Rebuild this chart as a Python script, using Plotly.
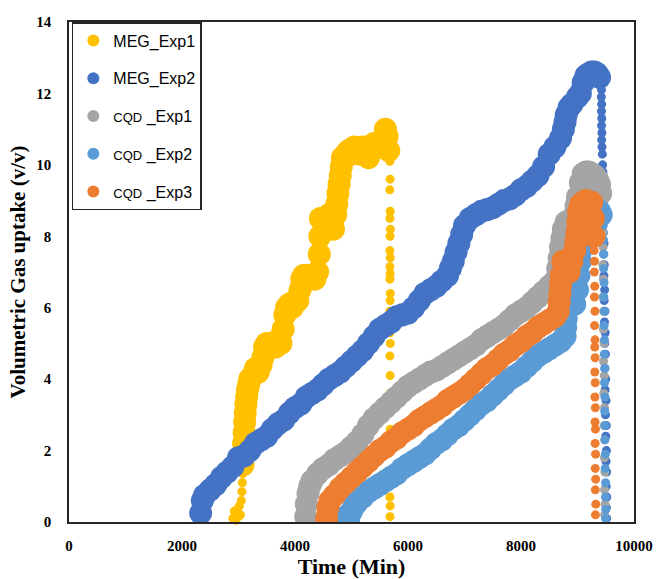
import plotly.graph_objects as go

# ---------------- data ----------------
x_ticks = [0, 2000, 4000, 6000, 8000, 10000]
x_tick_text = ["0", "2000", "4000", "6000", "8000", "10000"]
y_ticks = [0, 2, 4, 6, 8, 10, 12, 14]

series_names = ["MEG_Exp1", "MEG_Exp2",
                '<span style="font-size:13px">CQD</span> _Exp1',
                '<span style="font-size:13px">CQD</span> _Exp2',
                '<span style="font-size:13px">CQD</span> _Exp3']

meg1_band = [(3080, 1.6), (3085, 1.9), (3090, 2.2), (3100, 2.5), (3110, 2.8), (3120, 3.05),
             (3130, 3.3), (3145, 3.5), (3160, 3.7), (3180, 3.85), (3200, 4.0),
             (3250, 4.1), (3300, 4.3), (3350, 4.2), (3400, 4.4), (3430, 4.6), (3460, 4.9),
             (3500, 5.0), (3550, 5.0), (3600, 4.9), (3650, 4.9), (3700, 5.1), (3750, 5.0),
             (3790, 5.4), (3820, 5.8), (3850, 6.0), (3900, 6.1), (3950, 6.0), (4000, 6.2),
             (4050, 6.2), (4090, 6.5), (4120, 6.8), (4150, 6.9), (4200, 6.8), (4250, 6.9),
             (4300, 6.9), (4350, 6.8), (4400, 7.0), (4430, 7.5), (4440, 8.0), (4450, 8.5),
             (4500, 8.5), (4550, 8.4), (4600, 8.6), (4650, 8.4), (4680, 8.2), (4720, 8.6),
             (4740, 8.9), (4760, 9.2), (4780, 9.45), (4800, 9.7), (4820, 9.95), (4840, 10.2),
             (4900, 10.3), (4950, 10.4), (5000, 10.3),
             (5050, 10.5), (5100, 10.4), (5150, 10.3), (5200, 10.5), (5250, 10.4), (5300, 10.2),
             (5350, 10.4), (5400, 10.6), (5450, 10.6), (5500, 10.5), (5550, 10.7), (5600, 11.0),
             (5630, 10.8), (5660, 10.4)]
meg1_dots = [(2900, 0.1), (2925, 0.3), (2950, 0.05), (2975, 0.35), (3000, 0.15), (3015, 0.45),
             (3035, 0.2), (3050, 0.6), (3060, 0.85), (3068, 1.1), (3075, 1.35),
             (5680, 10.1), (5683, 9.6), (5678, 9.3), (5685, 8.7), (5680, 8.5), (5688, 8.2),
             (5682, 8.0), (5679, 7.6), (5686, 7.4), (5681, 7.15), (5684, 6.95), (5680, 6.8),
             (5687, 6.4), (5683, 6.2), (5679, 5.9), (5685, 5.6), (5682, 5.3), (5688, 5.0),
             (5680, 4.65), (5684, 4.1), (5681, 3.6), (5686, 2.6), (5683, 2.2), (5680, 0.7),
             (5685, 0.45), (5682, 0.15)]

meg2_band = [(2330, 0.25), (2360, 0.6), (2400, 0.75), (2500, 0.9), (2600, 1.05), (2700, 1.25),
             (2800, 1.4), (2900, 1.55), (3000, 1.8), (3100, 1.85), (3200, 2.0), (3300, 2.2),
             (3400, 2.3), (3500, 2.4), (3600, 2.6), (3700, 2.75), (3800, 2.85), (3900, 3.05),
             (4000, 3.2), (4100, 3.3), (4200, 3.5), (4300, 3.6), (4400, 3.7), (4500, 3.85),
             (4600, 4.0), (4700, 4.1), (4800, 4.2), (4900, 4.35), (5000, 4.5), (5100, 4.65),
             (5200, 4.8), (5300, 5.0), (5400, 5.2), (5500, 5.4), (5600, 5.5), (5700, 5.6),
             (5800, 5.75), (5900, 5.8), (6000, 5.85), (6100, 6.0), (6200, 6.2), (6300, 6.4),
             (6400, 6.5), (6500, 6.6), (6600, 6.75), (6700, 6.9), (6750, 7.1), (6800, 7.3),
             (6850, 7.55), (6900, 7.8), (6950, 8.05),
             (7000, 8.3), (7100, 8.5), (7200, 8.6), (7300, 8.7), (7400, 8.75), (7500, 8.8),
             (7600, 8.9), (7700, 9.0), (7800, 9.05), (7900, 9.15), (8000, 9.3), (8100, 9.4),
             (8200, 9.55), (8300, 9.7), (8400, 9.95), (8500, 10.3), (8600, 10.5), (8700, 10.75),
             (8750, 11.0), (8780, 11.2), (8800, 11.4), (8850, 11.6), (8900, 11.7), (9000, 11.9),
             (9050, 12.0), (9100, 12.3), (9150, 12.5), (9200, 12.55), (9250, 12.6), (9300, 12.6),
             (9350, 12.55), (9390, 12.45)]
meg2_dots = [(9420, 12.3), (9425, 12.1), (9422, 11.9), (9428, 11.7), (9424, 11.5), (9430, 11.3),
             (9426, 11.1), (9432, 10.9), (9428, 10.7), (9434, 10.5), (9440, 10.3),
             (9445, 10.0), (9450, 9.8), (9455, 9.6), (9448, 9.3), (9460, 9.0), (9452, 8.7),
             (9465, 8.4), (9458, 8.1), (9470, 7.8), (9462, 7.5), (9475, 7.2), (9468, 6.9),
             (9480, 6.5), (9472, 6.2), (9485, 5.9), (9478, 5.6), (9490, 5.3), (9482, 5.0),
             (9495, 4.7), (9486, 4.3), (9500, 4.0), (9490, 3.7), (9505, 3.4), (9495, 3.0),
             (9510, 2.7), (9500, 2.4), (9512, 2.0), (9505, 1.7), (9515, 1.4), (9508, 1.0),
             (9518, 0.7), (9510, 0.4), (9515, 0.1)]

cqd1_band = [(4190, 0.15), (4200, 0.5), (4230, 0.8), (4260, 1.0), (4300, 1.15), (4400, 1.35),
             (4500, 1.5), (4600, 1.6), (4700, 1.75), (4800, 1.85), (4900, 1.95), (5000, 2.1),
             (5100, 2.25), (5200, 2.45), (5300, 2.7), (5400, 2.9), (5500, 3.05), (5600, 3.2),
             (5700, 3.35), (5800, 3.5), (5900, 3.65), (6000, 3.8), (6100, 3.9), (6200, 4.0),
             (6300, 4.1), (6400, 4.2), (6500, 4.25), (6600, 4.35), (6700, 4.45), (6800, 4.55),
             (6900, 4.65), (7000, 4.75), (7100, 4.85), (7200, 4.95), (7300, 5.1), (7400, 5.2),
             (7500, 5.3), (7600, 5.4), (7700, 5.5), (7800, 5.65), (7900, 5.8), (8000, 5.9),
             (8100, 6.0), (8200, 6.15), (8300, 6.3), (8400, 6.45), (8500, 6.6), (8600, 6.75),
             (8650, 7.1), (8675, 7.4), (8700, 7.7), (8725, 7.95), (8750, 8.2), (8800, 8.4),
             (8850, 8.3), (8900, 8.3), (8950, 8.6), (8975, 8.85), (9000, 9.1), (9050, 9.5),
             (9100, 9.75), (9150, 9.8), (9200, 9.8), (9250, 9.75), (9300, 9.7), (9350, 9.6),
             (9390, 9.45), (9410, 9.2)]
cqd1_dots = [(9440, 9.0), (9445, 8.6), (9450, 8.1), (9455, 7.7), (9448, 7.2), (9460, 6.8),
             (9452, 6.3), (9465, 5.9), (9458, 5.4), (9470, 5.0), (9462, 4.5), (9474, 4.1),
             (9466, 3.6), (9478, 3.2), (9470, 2.7), (9482, 2.3), (9475, 1.8), (9485, 1.4),
             (9478, 0.9), (9488, 0.5), (9480, 0.2)]

cqd2_band = [(4860, 0.05), (4900, 0.15), (4950, 0.1), (5000, 0.3), (5050, 0.45), (5100, 0.55),
             (5200, 0.7), (5300, 0.85), (5400, 0.95), (5500, 1.05), (5600, 1.15), (5700, 1.25),
             (5800, 1.35), (5900, 1.5), (6000, 1.6), (6100, 1.7), (6200, 1.8), (6300, 1.9),
             (6400, 2.05), (6500, 2.2), (6600, 2.3), (6700, 2.45), (6800, 2.6), (6900, 2.7),
             (7000, 2.85), (7100, 3.0), (7200, 3.15), (7300, 3.3), (7400, 3.4), (7500, 3.55),
             (7600, 3.7), (7700, 3.85), (7800, 4.0), (7900, 4.1), (8000, 4.2), (8100, 4.35),
             (8200, 4.5), (8300, 4.65), (8400, 4.75), (8500, 4.85), (8600, 4.95), (8700, 5.05),
             (8780, 5.2), (8790, 5.45), (8800, 5.7), (8820, 6.1), (8900, 6.2), (8950, 6.1),
             (9000, 6.5), (9025, 6.9), (9050, 7.3), (9075, 7.65), (9100, 8.0), (9150, 8.25),
             (9200, 8.2), (9250, 8.3), (9300, 8.4), (9350, 8.6), (9390, 8.7), (9420, 8.6)]
cqd2_dots = [(9455, 8.3), (9460, 7.9), (9465, 7.5), (9462, 7.1), (9470, 6.7), (9466, 6.3),
             (9474, 5.9), (9470, 5.5), (9478, 5.1), (9474, 4.7), (9482, 4.3), (9478, 3.9),
             (9486, 3.5), (9482, 3.1), (9490, 2.7), (9486, 2.3), (9494, 1.9), (9490, 1.5),
             (9498, 1.1), (9494, 0.7), (9500, 0.35), (9496, 0.1)]

cqd3_band = [(4560, 0.1), (4580, 0.4), (4620, 0.6), (4700, 0.75), (4800, 0.95), (4900, 1.1),
             (5000, 1.25), (5100, 1.4), (5200, 1.55), (5300, 1.7), (5400, 1.85), (5500, 2.0),
             (5600, 2.1), (5700, 2.25), (5800, 2.35), (5900, 2.5), (6000, 2.6), (6100, 2.7),
             (6200, 2.85), (6300, 2.95), (6400, 3.05), (6500, 3.15), (6600, 3.25), (6700, 3.4),
             (6800, 3.5), (6900, 3.6), (7000, 3.7), (7100, 3.85), (7200, 4.0), (7300, 4.15),
             (7400, 4.3), (7500, 4.4), (7600, 4.55), (7700, 4.7), (7800, 4.8), (7900, 4.95),
             (8000, 5.05), (8100, 5.2), (8200, 5.3), (8300, 5.45), (8400, 5.55), (8500, 5.65),
             (8600, 5.75), (8660, 5.9), (8675, 6.15), (8690, 6.4), (8700, 6.65), (8710, 6.9),
             (8740, 7.3), (8800, 7.2), (8850, 7.0), (8900, 7.3), (8950, 7.6), (8970, 7.85),
             (8990, 8.1), (9005, 8.4), (9020, 8.7), (9060, 8.9), (9100, 8.95), (9150, 9.0),
             (9200, 8.9), (9250, 8.95), (9280, 8.5), (9290, 8.0)]
cqd3_dots = [(9295, 7.6), (9300, 7.3), (9298, 7.0), (9305, 6.6), (9300, 6.3), (9308, 5.9),
             (9302, 5.5), (9310, 5.1), (9305, 4.9), (9312, 4.6), (9306, 4.2), (9314, 3.9),
             (9308, 3.5), (9316, 3.2), (9310, 2.8), (9318, 2.6), (9312, 2.2), (9320, 1.9),
             (9314, 1.5), (9322, 1.2), (9316, 0.9), (9324, 0.5), (9318, 0.2)]

# ---------------- styling ----------------
colors = ["#FFC000", "#4472C4", "#A5A5A5", "#5B9BD5", "#ED7D31"]
bands = [meg1_band, meg2_band, cqd1_band, cqd2_band, cqd3_band]
dots = [meg1_dots, meg2_dots, cqd1_dots, cqd2_dots, cqd3_dots]

fig = go.Figure()
for i, (name, col, band, dt) in enumerate(zip(series_names, colors, bands, dots)):
    fig.add_trace(go.Scatter(
        x=[p[0] for p in band], y=[p[1] for p in band], mode="markers",
        marker=dict(color=col, size=23, line=dict(width=0)),
        showlegend=False, legendgroup=f"g{i}", hoverinfo="skip"))
    fig.add_trace(go.Scatter(
        x=[p[0] for p in dt], y=[p[1] for p in dt], mode="markers", name=name,
        marker=dict(color=col, size=9, line=dict(width=0)),
        cliponaxis=False, legendgroup=f"g{i}", legendrank=i + 1))

serif = "Liberation Serif"
axis_common = dict(showgrid=False, zeroline=False, showline=True, mirror=True,
                   linecolor="#262626", linewidth=1.5, ticks="", automargin=False,
                   tickfont=dict(family=serif, size=15, color="black", weight="bold"))

fig.update_layout(
    width=657, height=579,
    margin=dict(l=69, r=23, t=22, b=57),
    paper_bgcolor="white", plot_bgcolor="white",
    xaxis=dict(range=[0, 10000], tickvals=x_ticks, ticktext=x_tick_text, ticklabelstandoff=9,
               title=dict(text="Time (Min)", standoff=5,
                          font=dict(family=serif, size=22, color="black", weight="bold")),
               **axis_common),
    yaxis=dict(range=[0, 14], tickvals=y_ticks, ticklabelstandoff=13,
               title=dict(text="Volumetric Gas uptake (v/v)", standoff=5,
                          font=dict(family=serif, size=21, color="black", weight="bold")),
               **axis_common),
    legend=dict(x=0.005, y=1, xanchor="left", yanchor="top",
                bordercolor="#262626", borderwidth=1.5, bgcolor="white",
                font=dict(family="Liberation Sans", size=16, color="black"),
                itemsizing="constant", tracegroupgap=14, traceorder="grouped"),
)

fig.write_html("out.html", config={"displayModeBar": False},
               post_script="document.body.style.margin='0px';document.body.style.overflow='hidden';")
